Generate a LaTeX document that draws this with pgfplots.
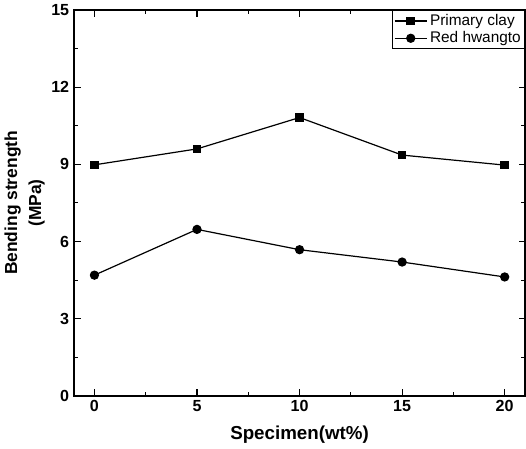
\documentclass[border=0pt]{standalone}
\usepackage{fontspec}
\setmainfont{Liberation Sans}
\usepackage{pgfplots}
\pgfplotsset{compat=1.18}
\begin{document}
\begin{tikzpicture}
\begin{axis}[
  scale only axis,
  width=337pt, height=288pt,
  xmin=-1, xmax=21, ymin=0, ymax=15,
  xtick={0,5,10,15,20},
  ytick={0,3,6,9,12,15},
  minor x tick num=1, minor y tick num=1,
  tick align=inside,
  major tick length=5pt, minor tick length=3pt,
  every tick/.style={black, line width=0.8pt},
  axis line style={line width=1.2pt},
  /pgf/number format/assume math mode=true,
  tick label style={font=\fontsize{12}{14}\selectfont\bfseries},
  xlabel={Specimen(wt\%)},
  ylabel={Bending strength\\[3pt](MPa)},
  xlabel style={font=\fontsize{14}{16}\selectfont\bfseries, yshift=-4pt},
  ylabel style={font=\fontsize{13}{15}\selectfont\bfseries, align=center, yshift=-2pt},
  legend style={at={(1,1)}, anchor=north east, font=\fontsize{11.5}{13}\selectfont, draw=black, line width=0.6pt, inner sep=1pt, row sep=-1pt},
  legend image code/.code={
    \draw[#1, mark repeat=2, mark phase=2] plot coordinates {(0cm,0cm) (0.42cm,0cm) (0.84cm,0cm)};},
  legend cell align=left,
]
\addplot[black, line width=0.9pt, mark=square*, mark size=2.8pt, mark options={solid}] coordinates {
 (0,8.98) (5,9.6) (10,10.82) (15,9.36) (20,8.97)};
\addlegendentry{Primary clay}
\addplot[black, line width=0.9pt, mark=*, mark size=3pt] coordinates {
 (0,4.69) (5,6.47) (10,5.68) (15,5.2) (20,4.62)};
\addlegendentry{Red hwangto}
\end{axis}
\end{tikzpicture}
\end{document}
